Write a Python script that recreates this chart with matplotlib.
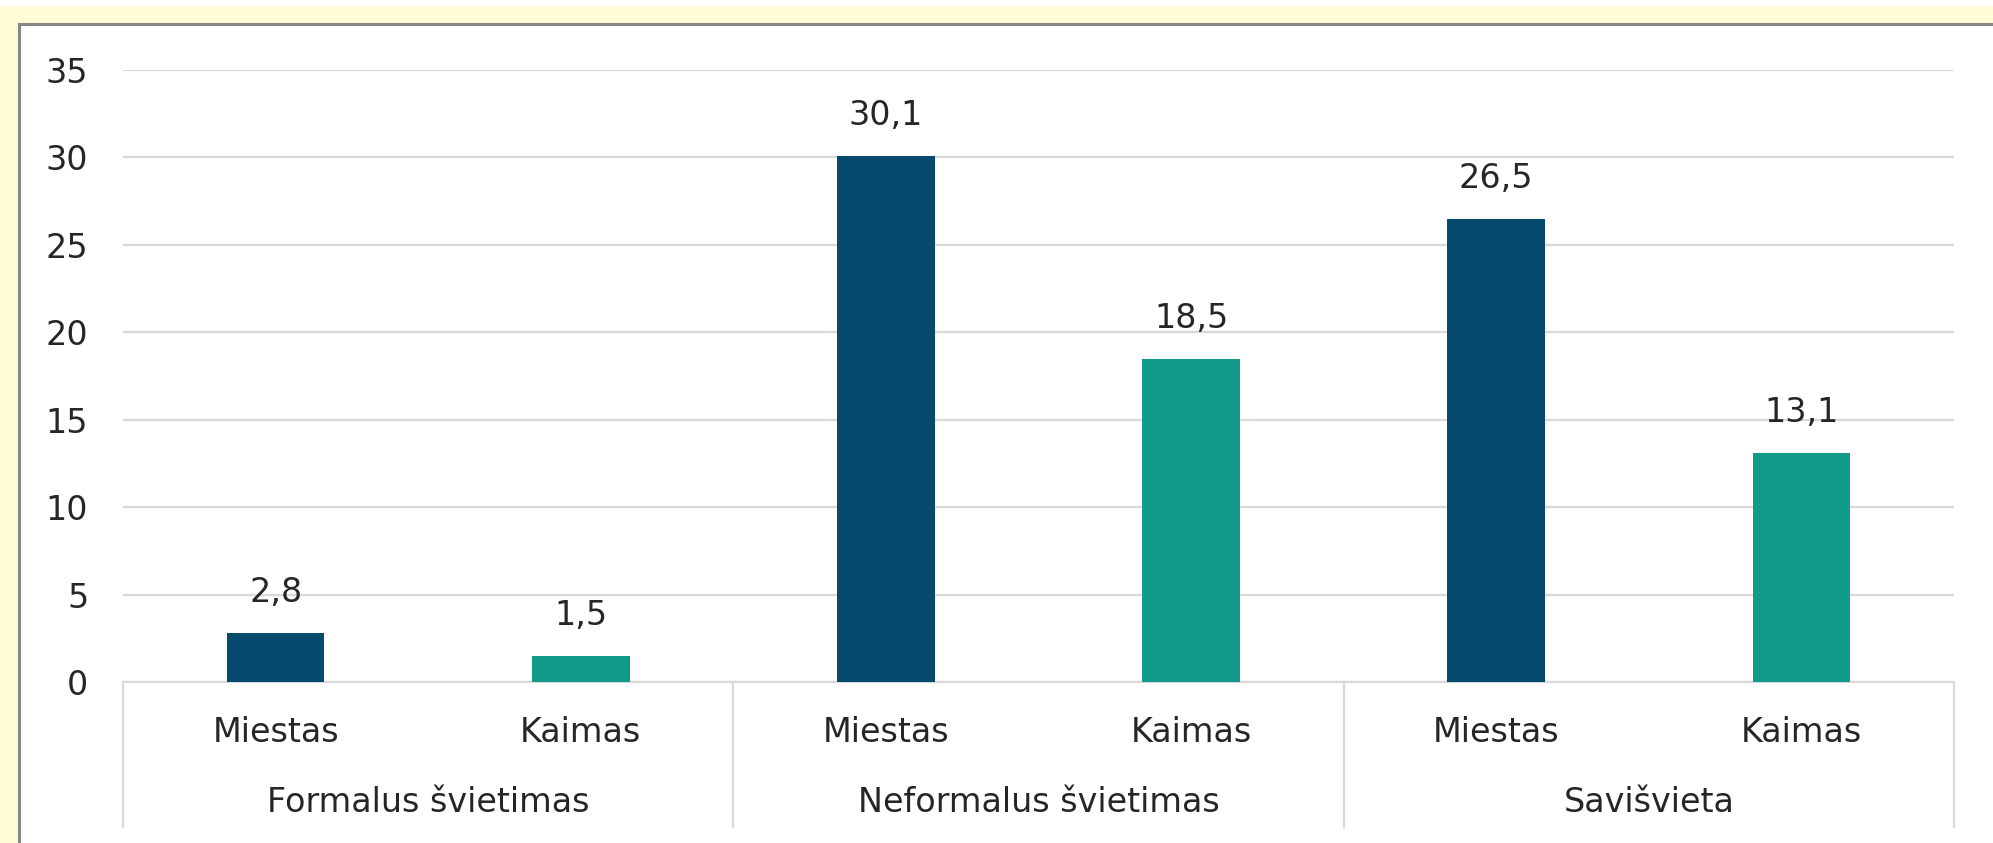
import matplotlib.pyplot as plt
from matplotlib.patches import Rectangle
from matplotlib.lines import Line2D

grupes = ['Formalus švietimas', 'Neformalus švietimas', 'Savišvieta']
vietove = ['Miestas', 'Kaimas']
miestas = [2.8, 30.1, 26.5]
kaimas = [1.5, 18.5, 13.1]
y_ticks = [0, 5, 10, 15, 20, 25, 30, 35]

spalvos = {'Miestas': '#064A6E', 'Kaimas': '#0F9A8A'}
tekstas = '#262626'
pilka = '#D9D9D9'

plt.rcParams['font.family'] = ['DejaVu Sans']

W, H = 1993, 843
fig = plt.figure(figsize=(W / 100, H / 100), dpi=100)
fig.patch.set_facecolor('white')

# geltonas fonas ir remelis
fig.patches.append(Rectangle((0, 0), 1, 1 - 6 / H, transform=fig.transFigure,
                             facecolor='#FFFCD6', edgecolor='none', zorder=-2))
fig.patches.append(Rectangle((18.5 / W, -0.2), 1.2, 1.2 - 23.5 / H, transform=fig.transFigure,
                             facecolor='white', edgecolor='#878787', linewidth=2.2, zorder=-1))

ax = fig.add_axes([123 / W, 1 - 682 / H, (1954 - 123) / W, (682 - 70) / H])
ax.set_facecolor('none')

# reiksmes sudeliojamos i 6 pozicijas
reiksmes = []
spalv = []
zymes = []
for m, k in zip(miestas, kaimas):
    reiksmes += [m, k]
    spalv += [spalvos['Miestas'], spalvos['Kaimas']]
    zymes += vietove
x = list(range(len(reiksmes)))

bars = ax.bar(x, reiksmes, width=0.32, color=spalv, zorder=3)
for xi, v in zip(x, reiksmes):
    ax.annotate(f'{v:.1f}'.replace('.', ','), (xi, v), xytext=(0, 29), textcoords='offset points',
                ha='center', va='center', fontsize=24, color=tekstas)

ax.set_xlim(-0.5, len(reiksmes) - 0.5)
ax.set_ylim(0, 35)
ax.set_yticks(y_ticks)
ax.set_yticklabels([str(t) for t in y_ticks], fontsize=24, color=tekstas)
ax.tick_params(axis='y', length=0, pad=25)
ax.set_xticks([])
ax.grid(axis='y', color=pilka, linewidth=1.6, zorder=0)
for s in ['top', 'right', 'left']:
    ax.spines[s].set_visible(False)
ax.spines['bottom'].set_color(pilka)
ax.spines['bottom'].set_linewidth(1.6)

trans = ax.get_xaxis_transform()
for xi, z in zip(x, zymes):
    ax.text(xi, -50 / 612, z, transform=trans, ha='center', va='center', fontsize=24, color=tekstas)
for i, g in enumerate(grupes):
    ax.text(2 * i + 0.5, -121 / 612, g, transform=trans, ha='center', va='center', fontsize=24, color=tekstas)

# grupiu skirtukai
for b in [-0.5, 1.5, 3.5, 5.5]:
    ax.add_line(Line2D([b, b], [0, -145 / 612], transform=trans, color=pilka,
                       linewidth=1.6, clip_on=False))

fig.savefig('out.png', dpi=100)
